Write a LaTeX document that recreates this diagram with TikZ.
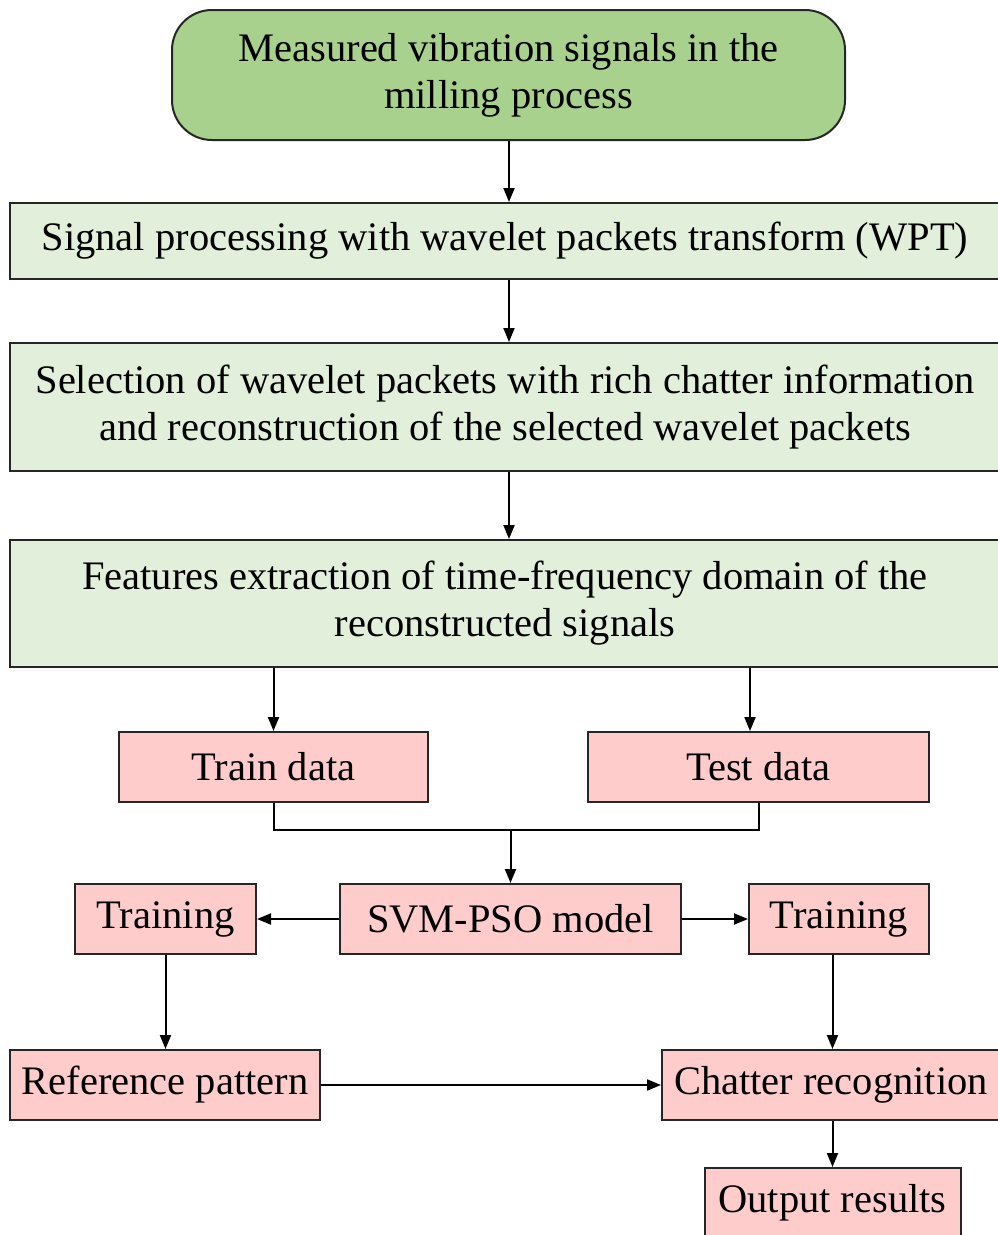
\documentclass[tikz,border=0pt]{standalone}
\usepackage{fontspec}
\setmainfont{Liberation Serif}
\usetikzlibrary{arrows.meta,calc}
\definecolor{topgreen}{RGB}{169,209,142}
\definecolor{lightgreen}{RGB}{226,239,218}
\definecolor{pinkbox}{RGB}{255,204,204}
\tikzset{
  base/.style={draw=black!85, line width=2pt, inner sep=0pt, align=center,
    font=\fontsize{40.5}{47}\selectfont, text=black},
  greenbox/.style={base, fill=lightgreen},
  topbox/.style={base, fill=topgreen, rounded corners=40pt},
  pinkrect/.style={base, fill=pinkbox},
  conn/.style={line width=2pt, draw=black},
  arr/.style={conn, -{Triangle[length=14pt,width=11pt]}},
}
\begin{document}
\begin{tikzpicture}[x=1pt,y=-1pt]
\useasboundingbox (0,0) rectangle (998,1235);
\clip (0,0) rectangle (998,1235);
\fill[white] (0,0) rectangle (998,1235);

\node[topbox, minimum width=673pt, minimum height=130pt] (top) at (508.5,75) {Measured vibration signals in the\\milling process};
\node[greenbox, minimum width=990pt, minimum height=76pt] (wpt) at (505,241) {Signal processing with wavelet packets transform (WPT)};
\node[greenbox, minimum width=990pt, minimum height=128pt] (sel) at (505,407) {Selection of wavelet packets with rich chatter information\\and reconstruction of the selected wavelet packets};
\node[greenbox, minimum width=990pt, minimum height=127pt] (feat) at (505,603.5) {Features extraction of time-frequency domain of the\\reconstructed signals};

\node[pinkrect, minimum width=309pt, minimum height=70pt] (train) at (273.5,767) {Train data};
\node[pinkrect, minimum width=341pt, minimum height=70pt] (test) at (758.5,767) {Test data};

\node[pinkrect, minimum width=341pt, minimum height=70pt] (svm) at (510.5,919) {SVM-PSO model};
\node[pinkrect, minimum width=181pt, minimum height=70pt] (trL) at (165.5,919) {Training};
\node[pinkrect, minimum width=180pt, minimum height=70pt] (trR) at (839,919) {Training};

\node[pinkrect, minimum width=310pt, minimum height=70pt] (ref) at (165,1085) {Reference pattern};
\node[pinkrect, minimum width=338pt, minimum height=70pt] (chat) at (831,1085) {Chatter recognition};
\node[pinkrect, minimum width=256pt, minimum height=70pt] (outp) at (832.5,1203) {Output results};

\coordinate (j) at (510.5,830);
\coordinate (tx) at (750,0);

\draw[arr] (top.south -| 509,0) -- (wpt.north -| 509,0);
\draw[arr] (wpt.south -| 509,0) -- (sel.north -| 509,0);
\draw[arr] (sel.south -| 509,0) -- (feat.north -| 509,0);
\draw[arr] (feat.south -| train.north) -- (train.north);
\draw[arr] (feat.south -| tx) -- (test.north -| tx);
\draw[conn] (train.south) |- (j) -| (test.south);
\draw[arr] (j) -- (svm.north);
\draw[arr] (svm.west) -- (trL.east);
\draw[arr] (svm.east) -- (trR.east -| trR.west);
\draw[arr] (trL.south) -- (ref.north -| trL.south);
\draw[arr] (trR.south -| outp.north) -- (chat.north -| outp.north);
\draw[arr] (ref.east) -- (chat.west);
\draw[arr] (chat.south -| outp.north) -- (outp.north);
\end{tikzpicture}
\end{document}
